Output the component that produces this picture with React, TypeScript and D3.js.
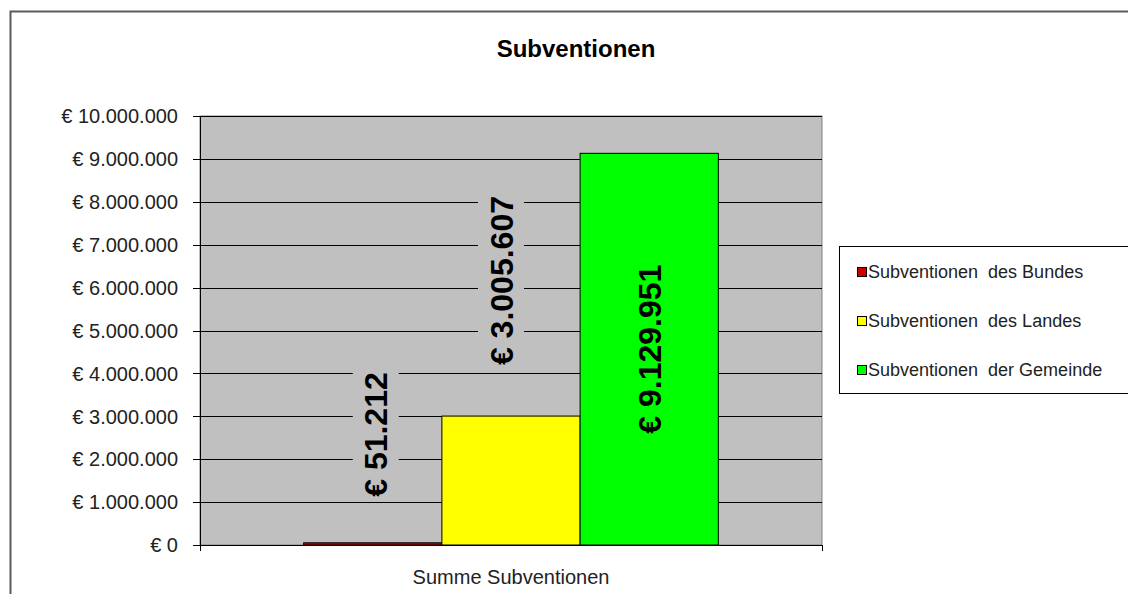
import React from "react";
import * as d3 from "d3";

// ---- data ----
const title = "Subventionen";
const category = "Summe Subventionen";
const seriesNames = [
  "Subventionen  des Bundes",
  "Subventionen  des Landes",
  "Subventionen  der Gemeinde",
];
const seriesValues = [51212, 3005607, 9129951];
const valueLabels = ["€ 51.212", "€ 3.005.607", "€ 9.129.951"];
const yTicks = [0, 1000000, 2000000, 3000000, 4000000, 5000000, 6000000, 7000000, 8000000, 9000000, 10000000];
const yTickLabels = [
  "€ 0", "€ 1.000.000", "€ 2.000.000", "€ 3.000.000", "€ 4.000.000", "€ 5.000.000",
  "€ 6.000.000", "€ 7.000.000", "€ 8.000.000", "€ 9.000.000", "€ 10.000.000",
];

// ---- styles ----
const W = 1128;
const H = 594;
const colors = ["#CC0000", "#FFFF00", "#00FF00"];
const plot = { left: 200, right: 822, top: 116, bottom: 545 };
const labelPlacement = ["outside", "outside", "inside"];
const labelGap = [46, 51, 0];
const labelDx = [3, -10, 0];
const font = "Arial, 'Liberation Sans', sans-serif";
const labelSize = 32;

const charW: Record<string, number> = { " ": 0.278, ".": 0.278, "€": 0.556 };
const textLen = (s: string, size: number) =>
  s.split("").reduce((a, c) => a + (charW[c] ?? 0.556), 0) * size;

export default function App() {
  const y = d3.scaleLinear().domain([0, 10000000]).range([plot.bottom, plot.top]);
  const xCat = d3.scaleBand().domain([category]).range([plot.left, plot.right]);
  const x = d3
    .scaleBand()
    .domain(seriesNames)
    .range([xCat(category)!, xCat(category)! + xCat.bandwidth()])
    .paddingInner(0)
    .paddingOuter(0.75);

  return (
    <svg
      width={W}
      height={H}
      style={{ position: "absolute", left: 0, top: 0, background: "#fff" }}
      fontFamily={font}
    >
      {/* outer chart border */}
      <rect x={10.5} y={11.5} width={W + 20} height={H + 20} fill="#fff" stroke="#5a5a5a" strokeWidth={2} />

      {/* title */}
      <text x={576} y={57} textAnchor="middle" fontSize={24} fontWeight="bold" fill="#000">
        {title}
      </text>

      {/* plot area */}
      <rect
        x={plot.left}
        y={plot.top}
        width={plot.right - plot.left}
        height={plot.bottom - plot.top}
        fill="#C0C0C0"
        stroke="#808080"
        strokeWidth={1}
      />

      {/* gridlines */}
      {yTicks.map((t) => (
        <line
          key={"g" + t}
          x1={plot.left}
          x2={plot.right}
          y1={Math.round(y(t)) + 0.5}
          y2={Math.round(y(t)) + 0.5}
          stroke="#000"
          strokeWidth={1}
        />
      ))}

      {/* y ticks + labels */}
      {yTicks.map((t, i) => (
        <g key={"t" + t}>
          <line
            x1={plot.left - 7}
            x2={plot.left}
            y1={Math.round(y(t)) + 0.5}
            y2={Math.round(y(t)) + 0.5}
            stroke="#000"
          />
          <text
            x={178}
            y={y(t)}
            dy="0.36em"
            textAnchor="end"
            fontSize={20}
            fill="#222"
          >
            {yTickLabels[i]}
          </text>
        </g>
      ))}

      {/* axes */}
      <line x1={plot.left + 0.5} x2={plot.left + 0.5} y1={plot.top} y2={plot.bottom + 6} stroke="#000" />
      <line x1={plot.left} x2={plot.right} y1={plot.bottom + 0.5} y2={plot.bottom + 0.5} stroke="#000" />
      <line x1={plot.right + 0.5} x2={plot.right + 0.5} y1={plot.bottom} y2={plot.bottom + 6} stroke="#000" />

      {/* bars */}
      {seriesNames.map((s, i) => (
        <rect
          key={s}
          x={x(s)!}
          y={y(seriesValues[i])}
          width={x.bandwidth()}
          height={y(0) - y(seriesValues[i])}
          fill={colors[i]}
          stroke="#000"
          strokeWidth={1}
        />
      ))}

      {/* value labels */}
      {seriesNames.map((s, i) => {
        const cx = x(s)! + x.bandwidth() / 2 + labelDx[i];
        const len = textLen(valueLabels[i], labelSize);
        const inside = labelPlacement[i] === "inside";
        const cy = inside
          ? (y(seriesValues[i]) + y(0)) / 2
          : y(seriesValues[i]) - labelGap[i] - len / 2;
        return (
          <g key={"l" + s} transform={`translate(${cx},${cy})`}>
            {!inside && (
              <rect x={-23} y={-len / 2 - 2} width={46} height={len + 4} fill="#C0C0C0" />
            )}
            <text
              transform="rotate(-90)"
              x={0}
              y={0}
              dy="0.36em"
              textAnchor="middle"
              fontSize={labelSize}
              fontWeight="bold"
              fill="#000"
            >
              {valueLabels[i]}
            </text>
          </g>
        );
      })}

      {/* category label */}
      <text
        x={xCat(category)! + xCat.bandwidth() / 2}
        y={577}
        dy="0.36em"
        textAnchor="middle"
        fontSize={20}
        fill="#222"
      >
        {category}
      </text>

      {/* legend */}
      <rect x={839.5} y={246.5} width={300} height={147} fill="#fff" stroke="#000" strokeWidth={1} />
      {seriesNames.map((s, i) => {
        const cy = 272 + i * 49;
        return (
          <g key={"lg" + s}>
            <rect x={857.5} y={cy - 4.5} width={9} height={9} fill={colors[i]} stroke="#000" />
            <text x={868} y={cy} dy="0.36em" fontSize={18} fill="#222" style={{ whiteSpace: "pre" }}>
              {s}
            </text>
          </g>
        );
      })}
    </svg>
  );
}
